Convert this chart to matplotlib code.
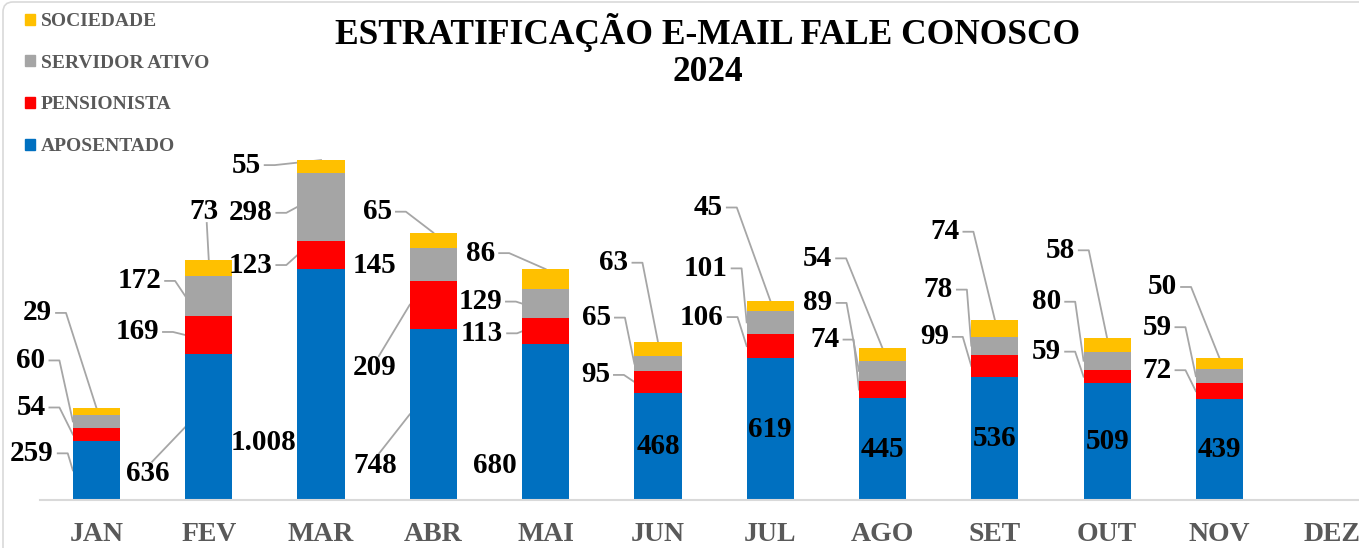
import numpy as np
import matplotlib
matplotlib.use("Agg")
import matplotlib.pyplot as plt
from matplotlib.patches import Patch, FancyBboxPatch
from matplotlib.transforms import IdentityTransform

plt.rcParams['font.family'] = ['Liberation Serif', 'DejaVu Serif']
plt.rcParams['font.weight'] = 'bold'

months = ['JAN', 'FEV', 'MAR', 'ABR', 'MAI', 'JUN', 'JUL', 'AGO', 'SET', 'OUT', 'NOV', 'DEZ']
aposentado = [259, 636, 1008, 748, 680, 468, 619, 445, 536, 509, 439]
pensionista = [54, 169, 123, 209, 113, 95, 106, 74, 99, 59, 72]
servidor = [60, 172, 298, 145, 129, 65, 101, 89, 78, 80, 59]
sociedade = [29, 73, 55, 65, 86, 63, 45, 54, 74, 58, 50]

series_names = ['APOSENTADO', 'PENSIONISTA', 'SERVIDOR ATIVO', 'SOCIEDADE']
colors = ['#0070C0', '#FF0000', '#A5A5A5', '#FFC000']

# label placement: (dx, dy) in pixels from anchor (dy downwards), leader on/off
# None -> label centred inside the segment
lab_apos = [(-41, -17, 1), (-37, 46, 1), (-34, 58, 0), (-35, 51, 1), (-27, 43, 0),
            None, None, None, None, None, None]
lab_pens = [(-42, -27, 1), (-48, -3, 1), (-47, 10, 1), (-35, 63, 1), (-40, 2, 1),
            (-39, -7, 1), (-45, -29, 1), (-34, -50, 1), (-37, -29, 1), (-37, -25, 1), (-39, -21, 1)]
lab_serv = [(-42, -61, 1), (-46, -15, 1), (-47, 6, 1), (-35, 1, 0), (-42, -2, 1),
            (-38, -46, 1), (-41, -54, 1), (-41, -68, 1), (-33, -56, 1), (-37, -59, 1), (-39, -49, 1)]
lab_soc = [(-59, -95, 1), (-5, -48, 1), (-75, 5, 1), (-56, -21, 1), (-65, -16, 1),
           (-44, -79, 1), (-62, -93, 1), (-65, -90, 1), (-50, -88, 1), (-47, -88, 1), (-57, -71, 1)]

W, H = 1359, 548
fig = plt.figure(figsize=(W / 100, H / 100), dpi=100)
ax = fig.add_axes([40.3 / W, 48 / H, 12 * 112.3 / W, 500 / H])

n = len(aposentado)
x = np.arange(n)
width = 0.42
stack = [aposentado, pensionista, servidor, sociedade]
bottom = np.zeros(n)
bottoms = []
for vals, c in zip(stack, colors):
    ax.bar(x, vals, width, bottom=bottom, color=c, zorder=2)
    bottoms.append(bottom.copy())
    bottom = bottom + np.array(vals)

ax.set_xlim(-0.5, 11.5)
ax.set_ylim(0, 2183)
ax.set_xticks(range(len(months)))
ax.set_xticklabels(months, fontsize=20, color='#595959', fontweight='bold')
ax.tick_params(axis='x', length=0, pad=16)
ax.set_yticks([])
for s in ['top', 'left', 'right']:
    ax.spines[s].set_visible(False)
ax.spines['bottom'].set_color('#D9D9D9')
ax.spines['bottom'].set_linewidth(1.5)


def fmt(v):
    return f"{v:,}".replace(",", ".")


texts = []
for k, (vals, labs) in enumerate(zip(stack, [lab_apos, lab_pens, lab_serv, lab_soc])):
    for i in range(n):
        v = vals[i]
        b = bottoms[k][i]
        lab = labs[i]
        if lab is None:
            ax.text(i, b + v / 2, fmt(v), ha='center', va='center', fontsize=21,
                    fontweight='bold', color='black', zorder=4)
            continue
        dx, dy, leader = lab
        if k == 3:
            anchor = (i, b + v)
        else:
            anchor = (i - width / 2, b + v / 2)
        t = ax.annotate(fmt(v), xy=anchor, xytext=(dx, -dy), textcoords='offset pixels',
                        ha='center', va='center', fontsize=21, fontweight='bold',
                        color='black', zorder=4, annotation_clip=False)
        if leader:
            texts.append((t, anchor))

# legend
handles = [Patch(color=c, label=l) for c, l in zip(colors[::-1], series_names[::-1])]
leg = fig.legend(handles=handles, loc='upper left', bbox_to_anchor=(25 / W, 1 - 13 / H),
                 frameon=False, borderpad=0, borderaxespad=0, handlelength=0.5,
                 handleheight=0.5, handletextpad=0.3, labelspacing=1.27,
                 prop={'family': 'Liberation Serif', 'weight': 'bold', 'size': 14})
for txt in leg.get_texts():
    txt.set_color('#595959')

fig.text(708 / W, 1 - 33 / H, 'ESTRATIFICAÇÃO E-MAIL FALE CONOSCO', ha='center',
         va='center', fontsize=25.5, fontweight='bold')
fig.text(708 / W, 1 - 72 / H, '2024', ha='center', va='center', fontsize=25.5,
         fontweight='bold')

# leader lines (drawn under the bars)
fig.canvas.draw()
r = fig.canvas.get_renderer()
inv = ax.transData.inverted()
for t, anchor in texts:
    bb = t.get_window_extent(r)
    axp, ayp = ax.transData.transform(anchor)
    yc = (bb.y0 + bb.y1) / 2
    xc = (bb.x0 + bb.x1) / 2
    if ayp > bb.y1 + 4:
        pts = [(xc + 4, bb.y1 - 2), (axp, ayp)]
    elif axp < bb.x1 + 6:
        pts = [(xc + 3, bb.y0 + 2), (axp, ayp)]
    else:
        pts = [(bb.x1 + 4, yc), (bb.x1 + 14, yc), (axp, ayp)]
    d = inv.transform(np.array(pts))
    ax.plot(d[:, 0], d[:, 1], color='#A6A6A6', lw=1.3, zorder=1.5, clip_on=False)

# outer chart-area frame (only the top-left part is visible in the crop)
frame = FancyBboxPatch((3, -60), W + 300, H - 2 + 60,
                       boxstyle='round,pad=0,rounding_size=10', transform=IdentityTransform(),
                       facecolor='none', edgecolor='#D9D9D9', lw=1.2)
fig.add_artist(frame)

fig.savefig('out.png', dpi=100)
